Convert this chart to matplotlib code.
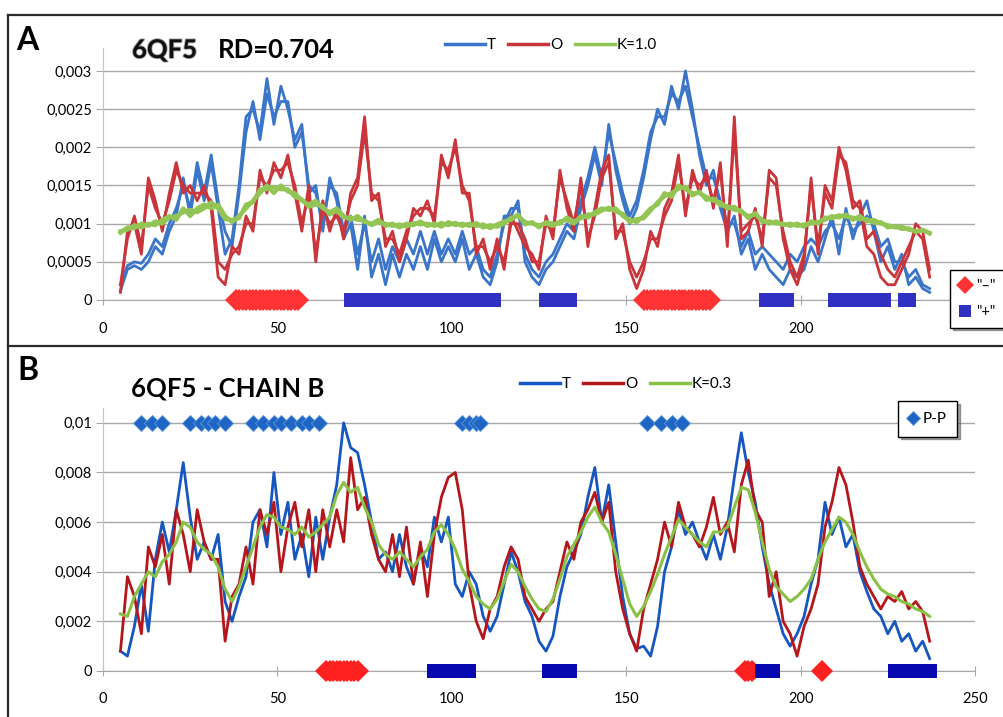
import matplotlib.pyplot as plt
import matplotlib.patheffects as pe
from matplotlib.lines import Line2D
import numpy as np

plt.rcParams['font.family'] = ['Lato', 'DejaVu Sans']

# residue numbers (every second residue)
res = np.arange(5, 238, 2)

# ---- panel A : 6QF5, RD=0.704 ----
t_a1 = [0.00012, 0.0004, 0.00045, 0.0004, 0.0005, 0.0007, 0.0006, 0.0009, 0.0011, 0.0016,
        0.0011, 0.0017, 0.0013, 0.0018, 0.0012, 0.0006, 0.0008, 0.0015, 0.0024, 0.0025,
        0.0022, 0.0029, 0.0023, 0.0028, 0.0025, 0.0021, 0.0023, 0.0014, 0.0015, 0.0009,
        0.0016, 0.0013, 0.0008, 0.0010, 0.0004, 0.0011, 0.0003, 0.0006, 0.0002, 0.0006,
        0.0003, 0.0006, 0.0004, 0.0007, 0.0004, 0.0008, 0.0005, 0.0007, 0.0005, 0.0008,
        0.0004, 0.0006, 0.0003, 0.0002, 0.0005, 0.0011, 0.0011, 0.0013, 0.0005, 0.0003,
        0.0002, 0.0004, 0.0005, 0.0007, 0.0009, 0.0008, 0.0012, 0.0015, 0.0019, 0.0015,
        0.0023, 0.0017, 0.0013, 0.0010, 0.0012, 0.0016, 0.0021, 0.0025, 0.0023, 0.0028,
        0.0025, 0.0030, 0.0025, 0.0019, 0.0015, 0.0017, 0.0012, 0.0009, 0.0011, 0.0006,
        0.0008, 0.0004, 0.0006, 0.0004, 0.0003, 0.0002, 0.0004, 0.0003, 0.0004, 0.0007,
        0.0005, 0.0008, 0.0011, 0.0006, 0.0012, 0.0008, 0.0011, 0.0013, 0.0009, 0.0005,
        0.0007, 0.0004, 0.0006, 0.0002, 0.0003, 0.00015, 0.0001]
t_a2 = [0.0002, 0.00045, 0.0005, 0.00048, 0.0006, 0.0008, 0.0007, 0.0010, 0.0012, 0.0015,
        0.0012, 0.0018, 0.0014, 0.0019, 0.0013, 0.0009, 0.0007, 0.0014, 0.0022, 0.0026,
        0.0021, 0.0027, 0.0024, 0.0026, 0.0026, 0.0020, 0.0022, 0.0015, 0.0014, 0.0010,
        0.0015, 0.0014, 0.0009, 0.0011, 0.0006, 0.0010, 0.0005, 0.0008, 0.0004, 0.0007,
        0.0005, 0.0008, 0.0006, 0.0009, 0.0006, 0.0009, 0.0006, 0.0008, 0.0006, 0.0009,
        0.0006, 0.0007, 0.0004, 0.0003, 0.0006, 0.0010, 0.0012, 0.0012, 0.0006, 0.0004,
        0.0003, 0.0005, 0.0006, 0.0008, 0.0010, 0.0009, 0.0013, 0.0016, 0.0020, 0.0016,
        0.0022, 0.0018, 0.0014, 0.0011, 0.0013, 0.0017, 0.0022, 0.0024, 0.0024, 0.0027,
        0.0026, 0.0028, 0.0024, 0.0020, 0.0016, 0.0016, 0.0013, 0.0010, 0.0010, 0.0007,
        0.0009, 0.0006, 0.0007, 0.0006, 0.0005, 0.0004, 0.0006, 0.0005, 0.0007, 0.0008,
        0.0007, 0.0009, 0.0010, 0.0008, 0.0011, 0.0009, 0.0010, 0.0011, 0.0010, 0.0007,
        0.0008, 0.0005, 0.0005, 0.0003, 0.0004, 0.0002, 0.00015]
o_a1 = [0.0001, 0.0009, 0.0010, 0.0006, 0.0016, 0.0013, 0.0009, 0.0014, 0.0018, 0.0014,
        0.0015, 0.0013, 0.0015, 0.0012, 0.0003, 0.0002, 0.0007, 0.0006, 0.0011, 0.0009,
        0.0017, 0.0014, 0.0018, 0.0016, 0.0019, 0.0014, 0.0009, 0.0015, 0.0005, 0.0013,
        0.0009, 0.0012, 0.0008, 0.0014, 0.0016, 0.0024, 0.0013, 0.0014, 0.0007, 0.0009,
        0.0005, 0.0008, 0.0012, 0.0011, 0.0013, 0.0010, 0.0019, 0.0016, 0.0021, 0.0014,
        0.0014, 0.0006, 0.0008, 0.0004, 0.0008, 0.0004, 0.0011, 0.0009, 0.0007, 0.0006,
        0.0004, 0.0011, 0.0008, 0.0017, 0.0012, 0.0009, 0.0016, 0.0007, 0.0012, 0.0017,
        0.0019, 0.0008, 0.0010, 0.0004, 0.00015, 0.0004, 0.0009, 0.0007, 0.0012, 0.0014,
        0.0019, 0.0011, 0.0017, 0.0014, 0.0017, 0.0012, 0.0018, 0.0007, 0.0024, 0.0008,
        0.0009, 0.0012, 0.0007, 0.0017, 0.0016, 0.0008, 0.0004, 0.0002, 0.0005, 0.0016,
        0.0006, 0.0015, 0.0013, 0.0020, 0.0017, 0.0012, 0.0013, 0.0008, 0.0009, 0.0006,
        0.0004, 0.0003, 0.0005, 0.0007, 0.0009, 0.0008, 0.0003]
o_a2 = [0.0002, 0.0008, 0.0011, 0.0007, 0.0015, 0.0012, 0.0010, 0.0013, 0.0017, 0.0015,
        0.0014, 0.0014, 0.0014, 0.0013, 0.0005, 0.0004, 0.0006, 0.0007, 0.0010, 0.0010,
        0.0016, 0.0015, 0.0017, 0.0017, 0.0018, 0.0015, 0.0010, 0.0014, 0.0006, 0.0012,
        0.0010, 0.0011, 0.0009, 0.0013, 0.0015, 0.0022, 0.0014, 0.0013, 0.0008, 0.0008,
        0.0006, 0.0009, 0.0011, 0.0012, 0.0012, 0.0011, 0.0018, 0.0017, 0.0020, 0.0015,
        0.0013, 0.0007, 0.0007, 0.0005, 0.0007, 0.0005, 0.0010, 0.0010, 0.0008, 0.0005,
        0.0005, 0.0010, 0.0009, 0.0016, 0.0013, 0.0010, 0.0015, 0.0008, 0.0011, 0.0016,
        0.0018, 0.0009, 0.0009, 0.0005, 0.0003, 0.0005, 0.0008, 0.0008, 0.0011, 0.0013,
        0.0018, 0.0012, 0.0016, 0.0015, 0.0016, 0.0013, 0.0017, 0.0008, 0.0022, 0.0009,
        0.0010, 0.0011, 0.0008, 0.0016, 0.0015, 0.0009, 0.0005, 0.0003, 0.0006, 0.0015,
        0.0007, 0.0014, 0.0012, 0.0019, 0.0018, 0.0013, 0.0012, 0.0007, 0.0006, 0.0003,
        0.0002, 0.0002, 0.0004, 0.0006, 0.0010, 0.0009, 0.0004]
k_a1 = [0.0009, 0.00092, 0.00098, 0.00095, 0.001, 0.00098, 0.00105, 0.0011, 0.00105, 0.0012,
        0.0011, 0.0012, 0.00125, 0.0012, 0.00125, 0.0011, 0.00102, 0.0011, 0.0012, 0.0013,
        0.0014, 0.0015, 0.0014, 0.0015, 0.00142, 0.0014, 0.0013, 0.00125, 0.0013, 0.0012,
        0.00115, 0.0012, 0.0011, 0.00105, 0.0011, 0.00102, 0.001, 0.00105, 0.00097, 0.001,
        0.00095, 0.001, 0.00098, 0.00103, 0.00097, 0.001, 0.00096, 0.00102, 0.00098, 0.001,
        0.00097, 0.00101, 0.00095, 0.00098, 0.00096, 0.001, 0.00108, 0.0011, 0.00102, 0.001,
        0.00098, 0.001, 0.00097, 0.00103, 0.00105, 0.001, 0.0011, 0.00108, 0.00115, 0.0012,
        0.00118, 0.0012, 0.0011, 0.00105, 0.00102, 0.0011, 0.0012, 0.00125, 0.0014, 0.00135,
        0.0015, 0.00145, 0.0014, 0.0014, 0.00135, 0.0013, 0.00128, 0.0012, 0.00122, 0.00115,
        0.0011, 0.00112, 0.00105, 0.001, 0.00103, 0.00098, 0.001, 0.00097, 0.00099, 0.001,
        0.00102, 0.00105, 0.0011, 0.00108, 0.00112, 0.00105, 0.0011, 0.00103, 0.00105, 0.001,
        0.00098, 0.00095, 0.00096, 0.00092, 0.0009, 0.00091, 0.00088]
k_a2 = [0.00088, 0.00095, 0.00094, 0.001, 0.00097, 0.00103, 0.001, 0.00108, 0.0011, 0.00115,
        0.00118, 0.00115, 0.0012, 0.00128, 0.0012, 0.00106, 0.00105, 0.00107, 0.00125, 0.00128,
        0.00145, 0.00145, 0.00148, 0.00145, 0.00145, 0.00135, 0.00132, 0.00122, 0.00125, 0.00123,
        0.00112, 0.00117, 0.00108, 0.00108, 0.00105, 0.00104, 0.00098, 0.00102, 0.001, 0.00097,
        0.00099, 0.00096, 0.00101, 0.00099, 0.001, 0.00097, 0.00101, 0.00098, 0.00101, 0.00097,
        0.001, 0.00097, 0.00099, 0.00094, 0.00099, 0.00103, 0.00105, 0.00112, 0.00099, 0.00102,
        0.00095, 0.00102, 0.001, 0.001, 0.00108, 0.00103, 0.00107, 0.00112, 0.00112, 0.00117,
        0.00121, 0.00116, 0.00113, 0.00102, 0.00106, 0.00107, 0.00117, 0.00128, 0.00136, 0.0014,
        0.00146, 0.00148, 0.00137, 0.00142, 0.00131, 0.00133, 0.00124, 0.00123, 0.00118, 0.00117,
        0.00107, 0.00114, 0.00102, 0.00103, 0.001, 0.001, 0.00097, 0.001, 0.00096, 0.00103,
        0.001, 0.00108, 0.00107, 0.00111, 0.00109, 0.00108, 0.00106, 0.00106, 0.00101, 0.00102,
        0.00095, 0.00097, 0.00093, 0.00094, 0.00089, 0.00092, 0.00087]

# charged stretches (first, last residue)
neg_runs_a = [(38, 56), (155, 174)]
pos_runs_a = [(71, 112), (127, 134), (190, 196), (210, 224), (230, 231)]

# ---- panel B : 6QF5 chain B ----
t_b = [0.0008, 0.0006, 0.0018, 0.0035, 0.0016, 0.0045, 0.0060, 0.0048, 0.0065, 0.0084,
       0.0062, 0.0045, 0.0052, 0.0045, 0.0055, 0.0028, 0.0020, 0.0030, 0.0038, 0.0060,
       0.0065, 0.0050, 0.0080, 0.0055, 0.0068, 0.0045, 0.0055, 0.0038, 0.0062, 0.0045,
       0.0062, 0.0075, 0.0100, 0.0090, 0.0088, 0.0075, 0.0060, 0.0045, 0.0048, 0.0040,
       0.0055, 0.0042, 0.0035, 0.0050, 0.0042, 0.0062, 0.0052, 0.0062, 0.0035, 0.0030,
       0.0040, 0.0035, 0.0022, 0.0016, 0.0022, 0.0035, 0.0048, 0.0040, 0.0028, 0.0022,
       0.0012, 0.0008, 0.0014, 0.0030, 0.0042, 0.0048, 0.0055, 0.0070, 0.0082, 0.0060,
       0.0075, 0.0052, 0.0030, 0.0015, 0.0009, 0.0010, 0.0006, 0.0018, 0.0040, 0.0050,
       0.0065, 0.0055, 0.0060, 0.0052, 0.0045, 0.0055, 0.0045, 0.0058, 0.0078, 0.0096,
       0.0080, 0.0068, 0.0050, 0.0035, 0.0025, 0.0015, 0.0010, 0.0015, 0.0022, 0.0035,
       0.0045, 0.0068, 0.0055, 0.0062, 0.0050, 0.0055, 0.0040, 0.0032, 0.0025, 0.0022,
       0.0015, 0.0020, 0.0012, 0.0015, 0.0008, 0.0012, 0.0005]
o_b = [0.0008, 0.0038, 0.0030, 0.0015, 0.0050, 0.0042, 0.0055, 0.0035, 0.0065, 0.0055,
       0.0040, 0.0065, 0.0052, 0.0045, 0.0045, 0.0012, 0.0030, 0.0035, 0.0050, 0.0035,
       0.0065, 0.0055, 0.0068, 0.0040, 0.0058, 0.0068, 0.0050, 0.0065, 0.0040, 0.0065,
       0.0050, 0.0065, 0.0052, 0.0086, 0.0065, 0.0070, 0.0055, 0.0045, 0.0040, 0.0055,
       0.0038, 0.0058, 0.0035, 0.0052, 0.0030, 0.0055, 0.0070, 0.0078, 0.0080, 0.0065,
       0.0035, 0.0020, 0.0013, 0.0025, 0.0030, 0.0042, 0.0050, 0.0045, 0.0030, 0.0025,
       0.0020, 0.0025, 0.0028, 0.0040, 0.0052, 0.0045, 0.0060, 0.0065, 0.0072, 0.0060,
       0.0068, 0.0040, 0.0025, 0.0015, 0.0008, 0.0025, 0.0035, 0.0045, 0.0060, 0.0050,
       0.0068, 0.0058, 0.0055, 0.0050, 0.0058, 0.0070, 0.0055, 0.0060, 0.0048, 0.0075,
       0.0085, 0.0065, 0.0060, 0.0030, 0.0040, 0.0020, 0.0015, 0.0006, 0.0018, 0.0025,
       0.0035, 0.0058, 0.0068, 0.0082, 0.0075, 0.0060, 0.0042, 0.0035, 0.0030, 0.0025,
       0.0030, 0.0028, 0.0032, 0.0025, 0.0028, 0.0024, 0.0012]
k_b = [0.0023, 0.0022, 0.0030, 0.0035, 0.0040, 0.0038, 0.0044, 0.0047, 0.0052, 0.0060,
       0.0058, 0.0052, 0.0049, 0.0047, 0.0042, 0.0033, 0.0028, 0.0034, 0.0042, 0.0050,
       0.0058, 0.0063, 0.0062, 0.0058, 0.0057, 0.0055, 0.0058, 0.0054, 0.0056, 0.0059,
       0.0062, 0.0071, 0.0076, 0.0072, 0.0074, 0.0066, 0.0060, 0.0051, 0.0047, 0.0045,
       0.0048, 0.0045, 0.0042, 0.0046, 0.0049, 0.0056, 0.0059, 0.0055, 0.0049, 0.0041,
       0.0036, 0.0030, 0.0027, 0.0025, 0.0029, 0.0036, 0.0043, 0.0040, 0.0034, 0.0029,
       0.0025, 0.0024, 0.0029, 0.0037, 0.0046, 0.0051, 0.0056, 0.0062, 0.0066, 0.0060,
       0.0056, 0.0047, 0.0037, 0.0027, 0.0022, 0.0026, 0.0032, 0.0039, 0.0047, 0.0054,
       0.0061, 0.0058, 0.0055, 0.0052, 0.0050, 0.0056, 0.0056, 0.0058, 0.0066, 0.0074,
       0.0073, 0.0064, 0.0052, 0.0041, 0.0034, 0.0031, 0.0028, 0.0030, 0.0033, 0.0037,
       0.0045, 0.0052, 0.0057, 0.0062, 0.0060, 0.0055, 0.0048, 0.0042, 0.0037, 0.0033,
       0.0031, 0.0030, 0.0028, 0.0027, 0.0025, 0.0024, 0.0022]

neg_runs_b = [(64, 73), (184, 186), (206, 206)]
pos_runs_b = [(95, 105), (128, 134), (189, 192), (227, 237)]
pp_b = [11, 14, 17, 25, 28, 30, 32, 35, 43, 46, 49, 51, 54, 57, 59, 62,
        103, 105, 107, 108, 156, 160, 163, 166]

xticks = [0, 50, 100, 150, 200, 250]
yticks_a = [0, 0.0005, 0.001, 0.0015, 0.002, 0.0025, 0.003]
ylabels_a = ['0', '0,0005', '0,001', '0,0015', '0,002', '0,0025', '0,003']
yticks_b = [0, 0.002, 0.004, 0.006, 0.008, 0.01]
ylabels_b = ['0', '0,002', '0,004', '0,006', '0,008', '0,01']


def expand(runs):
    out = []
    for a, b in runs:
        out.extend(range(a, b + 1))
    return np.array(out)


def style(ax, ymax, yticks, ylabels):
    ax.set_xlim(0, 250)
    ax.set_ylim(0, ymax)
    ax.set_xticks(xticks)
    ax.set_yticks(yticks)
    ax.set_yticklabels(ylabels)
    ax.grid(axis='y', color='#a8a8a8', lw=1)
    ax.set_axisbelow(True)
    for s in ['top', 'right']:
        ax.spines[s].set_visible(False)
    ax.spines['left'].set_color('#c4c4c4')
    ax.spines['bottom'].set_color('#a8a8a8')
    ax.tick_params(axis='y', length=5, color='#a8a8a8', labelsize=10.5, pad=3)
    ax.tick_params(axis='x', direction='inout', length=7, color='#a8a8a8',
                   labelsize=10.5, pad=12)


fig = plt.figure(figsize=(10.04, 7.17), dpi=100)
axA = fig.add_axes([0.1026, 0.5816, 0.8685, 0.3514])
axB = fig.add_axes([0.1026, 0.0642, 0.8685, 0.3668])

# --- A ---
style(axA, 0.0033, yticks_a, ylabels_a)
axA.set_xticklabels(['0', '50', '100', '150', '200', ''])
blue_a, red_a, green_a = '#3b75c9', '#c9353b', '#93c555'
for t in (t_a1, t_a2):
    axA.plot(res, t, color=blue_a, lw=2.0, zorder=3)
for o in (o_a1, o_a2):
    axA.plot(res, o, color=red_a, lw=2.0, zorder=4)
for k in (k_a1, k_a2):
    axA.plot(res, k, color=green_a, lw=3.0, zorder=5)
na = expand(neg_runs_a)
axA.plot(na, np.zeros(len(na)), ls='none', marker='D', ms=11, mew=0,
         color='#ff3333', zorder=6, clip_on=False)
pa = expand(pos_runs_a)
axA.plot(pa, np.zeros(len(pa)), ls='none', marker='s', ms=10.5, mew=0,
         color='#3030c2', zorder=6, clip_on=False)

top_a = [Line2D([], [], color=c, lw=2.5) for c in (blue_a, red_a, green_a)]
axA.legend(top_a, ['T', 'O', 'K=1.0'], loc='center', bbox_to_anchor=(0.514, 1.012),
           ncol=3, frameon=False, fontsize=11, handlelength=2.6,
           handletextpad=0.15, columnspacing=0.8)

# --- B ---
style(axB, 0.0106, yticks_b, ylabels_b)
blue_b, red_b, green_b = '#1656c0', '#b5161c', '#88c145'
axB.plot(res, t_b, color=blue_b, lw=2.0, zorder=3)
axB.plot(res, o_b, color=red_b, lw=2.0, zorder=4)
axB.plot(res, k_b, color=green_b, lw=2.2, zorder=5)
nb = expand(neg_runs_b)
axB.plot(nb, np.zeros(len(nb)), ls='none', marker='D', ms=11, mew=0,
         color='#ff2020', zorder=6, clip_on=False)
pb = expand(pos_runs_b)
axB.plot(pb, np.zeros(len(pb)), ls='none', marker='s', ms=10.5, mew=0,
         color='#0808b0', zorder=6, clip_on=False)
axB.plot(pp_b, np.full(len(pp_b), 0.01), ls='none', marker='D', ms=8.5,
         color='#1f66c4', mec='#5a96dc', mew=0.6, zorder=6, clip_on=False)

top_b = [Line2D([], [], color=c, lw=2.5) for c in (blue_b, red_b, green_b)]
axB.legend(top_b, ['T', 'O', 'K=0.3'], loc='center', bbox_to_anchor=(0.6, 1.091),
           ncol=3, frameon=False, fontsize=11, handlelength=2.6,
           handletextpad=0.15, columnspacing=0.8)

# side legends
side_a = [Line2D([], [], ls='none', marker='D', ms=9, mew=0, color='#ff3333'),
          Line2D([], [], ls='none', marker='s', ms=9, mew=0, color='#3030c2')]
lg = fig.legend(side_a, ['"\u2013"', '"+"'], loc='center', bbox_to_anchor=(0.9735, 0.583),
                fontsize=10.5, frameon=True, fancybox=False, shadow=True, edgecolor='black',
                handlelength=0.8, handletextpad=0.4, labelspacing=0.8, borderpad=0.6)
lg.get_frame().set_linewidth(1.0)
side_b = [Line2D([], [], ls='none', marker='D', ms=7, color='#1f66c4', mec='#5a96dc', mew=0.6)]
lg = fig.legend(side_b, ['P-P'], loc='center', bbox_to_anchor=(0.924, 0.4156),
                fontsize=11, frameon=True, fancybox=False, shadow=True, edgecolor='black',
                handlelength=0.6, handletextpad=0.3, borderpad=0.7)
lg.get_frame().set_linewidth(1.0)

# titles and panel letters
fig.text(0.027, 1 - 41 / 717, 'A', fontsize=23, fontweight='bold', ha='center', va='center')
fig.text(0.028, 1 - 370 / 717, 'B', fontsize=23, fontweight='bold', ha='center', va='center')
fig.text(132 / 1004, 1 - 50 / 717, '6QF5', fontsize=18.5, fontweight='bold', va='center',
         color='#111111',
         path_effects=[pe.withStroke(linewidth=1.4, foreground='#555555', alpha=0.5)])
fig.text(218 / 1004, 1 - 50 / 717, 'RD=0.704', fontsize=18.5, fontweight='bold', va='center')
fig.text(131 / 1004, 1 - 389 / 717, '6QF5 - CHAIN B', fontsize=18.5, fontweight='bold',
         va='center')

# panel frames
frame = dict(transform=fig.transFigure, color='#2b2b2b', lw=1.6)
fig.add_artist(Line2D([0.008, 1.0], [0.979, 0.979], **frame))
fig.add_artist(Line2D([0.008, 0.008], [0.0, 0.979], **frame))
fig.add_artist(Line2D([0.008, 1.0], [0.5174, 0.5174], **frame))

fig.savefig('out.png', dpi=100, facecolor='white')
